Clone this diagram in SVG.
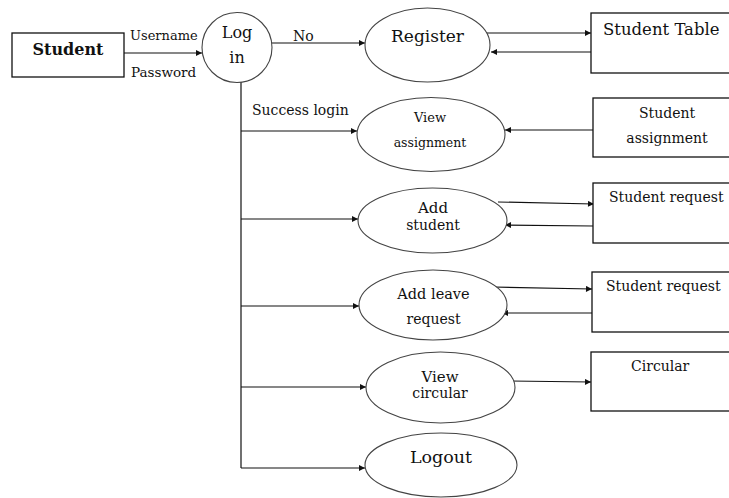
<svg xmlns="http://www.w3.org/2000/svg" width="729" height="498" viewBox="0 0 729 498">
  <style>
    .box { fill: #fff; stroke: #111; stroke-width: 1.3; }
    .proc { fill: #fff; stroke: #444; stroke-width: 1.1; }
    .flow { fill: none; stroke: #111; stroke-width: 1.2; }
    .flow.arr { marker-end: url(#head); }
    text { font-family: "DejaVu Serif", "Liberation Serif", serif; fill: #111; }
    .c { text-anchor: middle; }
  </style>
  <defs>
    <marker id="head" viewBox="0 0 10 10" refX="10" refY="5" markerWidth="8" markerHeight="6" markerUnits="userSpaceOnUse" orient="auto">
      <path d="M0,0 L10,5 L0,10 z" fill="#111"/>
    </marker>
  </defs>
  <rect width="729" height="498" fill="#fff"/>

  <!-- connectors -->
  <g id="connectors">
    <line class="flow arr" x1="124" y1="53" x2="202" y2="53"/>
    <line class="flow arr" x1="272" y1="43" x2="365" y2="43"/>
    <line class="flow arr" x1="483" y1="33" x2="591" y2="33"/>
    <line class="flow arr" x1="591" y1="52" x2="491" y2="52"/>
    <line class="flow arr" x1="593" y1="130" x2="505" y2="130"/>
    <line class="flow arr" x1="498" y1="202" x2="594" y2="204"/>
    <line class="flow arr" x1="593" y1="226" x2="505" y2="225"/>
    <line class="flow arr" x1="493" y1="287" x2="592" y2="289"/>
    <line class="flow arr" x1="592" y1="313" x2="502" y2="313"/>
    <line class="flow arr" x1="510" y1="381" x2="591" y2="382"/>
    <!-- trunk from Log in down to the menu entries -->
    <line class="flow" x1="241" y1="82" x2="241" y2="468"/>
    <line class="flow arr" x1="241" y1="131" x2="357" y2="131"/>
    <line class="flow arr" x1="241" y1="219" x2="358" y2="219"/>
    <line class="flow arr" x1="241" y1="306" x2="359" y2="306"/>
    <line class="flow arr" x1="241" y1="387" x2="366" y2="387"/>
    <line class="flow arr" x1="241" y1="468" x2="365" y2="468"/>
    <text x="130" y="40" font-size="13">Username</text>
    <text x="131" y="77" font-size="13.5">Password</text>
    <text x="293" y="41" font-size="14">No</text>
    <text x="252" y="115" font-size="14">Success login</text>
  </g>

  <g id="student">
    <rect class="box" x="12" y="33" width="112" height="44"/>
    <text class="c" x="68" y="55" font-size="16" font-weight="bold">Student</text>
  </g>

  <g id="login">
    <circle class="proc" cx="237" cy="47.5" r="35"/>
    <text class="c" x="237" y="38" font-size="16">Log</text>
    <text class="c" x="237" y="63" font-size="16">in</text>
  </g>

  <g id="register">
    <ellipse class="proc" cx="427.5" cy="45" rx="62.5" ry="37"/>
    <text class="c" x="427.5" y="42" font-size="17">Register</text>
  </g>

  <g id="student-table">
    <rect class="box" x="591" y="13" width="160" height="60"/>
    <text x="603" y="35" font-size="16.5">Student Table</text>
  </g>

  <g id="view-assignment">
    <ellipse class="proc" cx="431" cy="134.5" rx="74" ry="37"/>
    <text class="c" x="430" y="122" font-size="13">View</text>
    <text class="c" x="430" y="147" font-size="12.5">assignment</text>
  </g>

  <g id="student-assignment">
    <rect class="box" x="593" y="98" width="160" height="59"/>
    <text class="c" x="667" y="118" font-size="14">Student</text>
    <text class="c" x="667" y="143" font-size="14">assignment</text>
  </g>

  <g id="add-student">
    <ellipse class="proc" cx="432.5" cy="220.5" rx="74.5" ry="32.5"/>
    <text class="c" x="433" y="213" font-size="15">Add</text>
    <text class="c" x="433" y="230" font-size="14">student</text>
  </g>

  <g id="student-request-1">
    <rect class="box" x="593" y="183" width="160" height="60"/>
    <text x="609" y="202" font-size="14">Student request</text>
  </g>

  <g id="add-leave-request">
    <ellipse class="proc" cx="433" cy="305" rx="74" ry="35"/>
    <text class="c" x="433.5" y="299" font-size="14.5">Add leave</text>
    <text class="c" x="433.5" y="324" font-size="14">request</text>
  </g>

  <g id="student-request-2">
    <rect class="box" x="592" y="272" width="160" height="60"/>
    <text x="606" y="291" font-size="14">Student request</text>
  </g>

  <g id="view-circular">
    <ellipse class="proc" cx="440.5" cy="387.5" rx="74.5" ry="35.5"/>
    <text class="c" x="440" y="382" font-size="15">View</text>
    <text class="c" x="440" y="398" font-size="14">circular</text>
  </g>

  <g id="circular">
    <rect class="box" x="591" y="352" width="160" height="59"/>
    <text x="631" y="371" font-size="14">Circular</text>
  </g>

  <g id="logout">
    <ellipse class="proc" cx="441" cy="465" rx="76" ry="32"/>
    <text class="c" x="441" y="463" font-size="17.5">Logout</text>
  </g>
</svg>
